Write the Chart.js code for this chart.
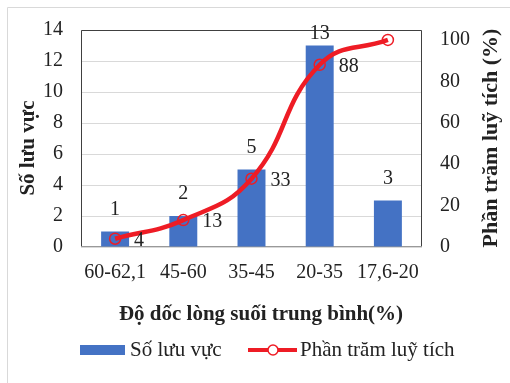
<!DOCTYPE html>
<html>
<head>
<meta charset="utf-8">
<script src="https://cdn.jsdelivr.net/npm/chart.js@4"></script>
<style>
  html, body { margin: 0; padding: 0; background: #fff; }
  #wrap { position: absolute; left: 0; top: 0; width: 510px; height: 383px; }
</style>
</head>
<body>
<div id="wrap"><canvas id="slopeChart" width="510" height="383"></canvas></div>
<script>
// data
const categories = ['60-62,1', '45-60', '35-45', '20-35', '17,6-20'];
const basinCounts = [1, 2, 5, 13, 3];
const cumulativePct = [4, 13, 33, 88, 100];
const cumulativeLabels = ['4', '13', '33', '88', ''];
const pctTicks = [0, 20, 40, 60, 80, 100];

const barName = 'Số lưu vực';
const lineName = 'Phần trăm luỹ tích';
const leftTitle = 'Số lưu vực';
const rightTitle = 'Phần trăm luỹ tích (%)';
const xTitle = 'Độ dốc lòng suối trung bình(%)';

const FONT = '"Liberation Serif", "Times New Roman", serif';
const BLUE = '#4472C4';
const RED = '#EE1C25';

/* frame, plot border, value labels, titles, legend */
const extras = {
  id: 'extras',
  beforeDraw(chart) {
    const ctx = chart.ctx;
    ctx.save();
    ctx.strokeStyle = '#d9d9d9';
    ctx.lineWidth = 1;
    ctx.beginPath();
    ctx.moveTo(7.5, 383);
    ctx.lineTo(7.5, 7.5);
    ctx.lineTo(510, 7.5);
    ctx.stroke();
    ctx.restore();
  },
  beforeDatasetsDraw(chart) {
    const { ctx, chartArea: a } = chart;
    ctx.save();
    ctx.strokeStyle = '#404040';
    ctx.lineWidth = 1;
    ctx.beginPath();
    ctx.moveTo(a.left + 0.5, a.bottom);
    ctx.lineTo(a.left + 0.5, a.top + 0.5);
    ctx.lineTo(a.right - 0.5, a.top + 0.5);
    ctx.lineTo(a.right - 0.5, a.bottom);
    ctx.stroke();
    ctx.strokeStyle = '#999';
    ctx.beginPath();
    ctx.moveTo(a.left, a.bottom - 0.5);
    ctx.lineTo(a.right, a.bottom - 0.5);
    ctx.stroke();
    ctx.restore();
  },
  afterDraw(chart) {
    const { ctx, chartArea: a } = chart;
    ctx.save();
    ctx.fillStyle = '#222';
    ctx.font = '20px ' + FONT;
    ctx.textBaseline = 'middle';

    // bar labels (dataset 1 is the bars)
    ctx.textAlign = 'center';
    chart.getDatasetMeta(1).data.forEach((bar, i) => {
      const y = Math.max(bar.y - 22, a.top + 4);
      ctx.fillText(String(basinCounts[i]), bar.x, y);
    });

    // line labels
    ctx.textAlign = 'left';
    chart.getDatasetMeta(0).data.forEach((pt, i) => {
      if (cumulativeLabels[i]) ctx.fillText(cumulativeLabels[i], pt.x + 19, pt.y + 2);
    });

    // axis titles
    ctx.font = 'bold 21px ' + FONT;
    ctx.textAlign = 'center';
    ctx.fillText(xTitle, 261, 315);
    ctx.save();
    ctx.translate(29, 148);
    ctx.rotate(-Math.PI / 2);
    ctx.fillText(leftTitle, 0, 0);
    ctx.restore();
    ctx.save();
    ctx.font = 'bold 22px ' + FONT;
    ctx.translate(491, 138);
    ctx.rotate(-Math.PI / 2);
    ctx.fillText(rightTitle, 0, 0);
    ctx.restore();

    // legend
    const ly = 350;
    ctx.font = '21px ' + FONT;
    ctx.textAlign = 'left';
    ctx.fillStyle = BLUE;
    ctx.fillRect(80, ly - 5, 45, 10);
    ctx.fillStyle = '#222';
    ctx.fillText(barName, 130, ly);
    ctx.strokeStyle = RED;
    ctx.lineWidth = 4;
    ctx.beginPath();
    ctx.moveTo(248, ly);
    ctx.lineTo(297, ly);
    ctx.stroke();
    ctx.fillStyle = '#fff';
    ctx.lineWidth = 1.5;
    ctx.beginPath();
    ctx.arc(273, ly, 5, 0, Math.PI * 2);
    ctx.fill();
    ctx.stroke();
    ctx.fillStyle = '#222';
    ctx.fillText(lineName, 300, ly);
    ctx.restore();
  }
};

new Chart(document.getElementById('slopeChart'), {
  data: {
    labels: categories,
    datasets: [
      {
        type: 'line',
        label: lineName,
        data: cumulativePct,
        yAxisID: 'yPct',
        borderColor: RED,
        borderWidth: 4.5,
        tension: 0.45,
        pointRadius: 5.5,
        pointBorderWidth: 1.5,
        pointBorderColor: RED,
        pointBackgroundColor: 'rgba(0,0,0,0)',
        order: 0
      },
      {
        type: 'bar',
        label: barName,
        data: basinCounts,
        yAxisID: 'y',
        backgroundColor: BLUE,
        barPercentage: 0.41,
        categoryPercentage: 1,
        order: 1
      }
    ]
  },
  options: {
    responsive: false,
    animation: false,
    devicePixelRatio: 1,
    layout: { padding: { left: 0, right: 0, top: 29, bottom: 0 } },
    plugins: { legend: { display: false }, tooltip: { enabled: false } },
    scales: {
      x: {
        grid: { display: false, drawTicks: false },
        border: { display: false },
        ticks: { color: '#222', font: { family: FONT, size: 20 }, padding: 14, maxRotation: 0 },
        afterFit(s) { s.height = 136; }
      },
      y: {
        position: 'left',
        min: 0, max: 14,
        ticks: { stepSize: 2, color: '#222', font: { family: FONT, size: 20 }, padding: 18 },
        grid: { color: '#d9d9d9', drawTicks: false },
        border: { display: false },
        afterFit(s) { s.width = 81; }
      },
      yPct: {
        position: 'right',
        min: 0, max: 104.8,
        ticks: { color: '#222', font: { family: FONT, size: 20 }, padding: 18 },
        afterBuildTicks(s) { s.ticks = pctTicks.map(v => ({ value: v })); },
        grid: { display: false, drawTicks: false },
        border: { display: false },
        afterFit(s) { s.width = 88; }
      }
    }
  },
  plugins: [extras]
});
</script>
</body>
</html>
